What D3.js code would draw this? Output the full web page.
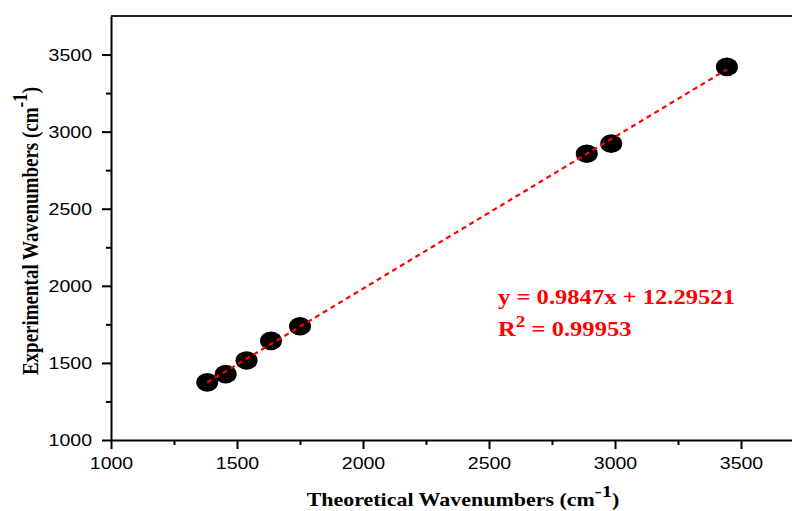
<!DOCTYPE html>
<html>
<head>
<meta charset="utf-8">
<script src="https://cdn.jsdelivr.net/npm/d3@7"></script>
<style>
  body { margin: 0; background: #fff; }
  svg { display: block; }
  .tick text { font-family: "Liberation Sans", Arial, sans-serif; font-size: 16px; fill: #000; }
  .axis-title { font-family: "Liberation Serif", "Times New Roman", serif; font-weight: bold; }
  .eq { font-family: "Liberation Serif", "Times New Roman", serif; font-weight: bold; font-size: 20.5px; fill: #ff0000; }
</style>
</head>
<body>
<svg id="chart" width="792" height="511"></svg>
<script>
// theoretical vs experimental wavenumbers (cm-1)
const theoretical = [1382, 1455, 1538, 1635, 1750, 2888, 2985, 3444];
const experimental = [1374, 1427, 1516, 1643, 1738, 2857, 2922, 3420];
const xTicks = [1000, 1500, 2000, 2500, 3000, 3500];
const yTicks = [1000, 1500, 2000, 2500, 3000, 3500];
const slope = 0.9847, intercept = 12.29521;

const svg = d3.select("#chart");
const margin = {left: 111, top: 16, right: -12, bottom: 71};
const W = 792 - margin.left - margin.right;
const H = 511 - margin.top - margin.bottom;
const stretch = 1.22; // the reference text is wider than it is tall

const x = d3.scaleLinear().domain([1000, 3750]).range([0, W]);
const y = d3.scaleLinear().domain([1000, 3750]).range([H, 0]);

const g = svg.append("g").attr("transform", "translate(" + margin.left + "," + margin.top + ")");

// minor ticks halfway between majors
let xMinor = d3.range(1250, 3750, 500);
let yMinor = d3.range(1250, 3750, 500);

g.append("g").attr("transform", "translate(0," + H + ")")
  .call(d3.axisBottom(x).tickValues(xMinor).tickSize(5).tickFormat(""))
  .call(a => a.select(".domain").remove())
  .selectAll("line").attr("stroke-width", 2);
g.append("g")
  .call(d3.axisLeft(y).tickValues(yMinor).tickSize(5).tickFormat(""))
  .call(a => a.select(".domain").remove())
  .selectAll("line").attr("stroke-width", 2);

let xAxis = g.append("g").attr("transform", "translate(0," + H + ")")
  .call(d3.axisBottom(x).tickValues(xTicks).tickSize(9).tickSizeOuter(0).tickFormat(d3.format("d")));
let yAxis = g.append("g")
  .call(d3.axisLeft(y).tickValues(yTicks).tickSize(9).tickSizeOuter(0).tickFormat(d3.format("d")));
xAxis.selectAll("line, path").attr("stroke-width", 2);
yAxis.selectAll("line, path").attr("stroke-width", 2);
xAxis.selectAll(".tick text").attr("y", 0).attr("dy", 0)
  .attr("transform", "translate(0,29) scale(" + stretch + ",1)");
yAxis.selectAll(".tick text").attr("x", 0).attr("dy", "0.36em")
  .attr("transform", "translate(-19,0) scale(" + stretch + ",1)");

// top border
g.append("line").attr("x1", 0).attr("x2", W).attr("y1", 0).attr("y2", 0)
  .attr("stroke", "#222").attr("stroke-width", 2);

// markers
g.selectAll("ellipse").data(theoretical).enter().append("ellipse")
  .attr("cx", d => x(d))
  .attr("cy", (d, i) => y(experimental[i]))
  .attr("rx", 11).attr("ry", 9.3)
  .attr("fill", "#000");

// linear fit line
const x0 = d3.min(theoretical), x1 = d3.max(theoretical);
g.append("line")
  .attr("x1", x(x0)).attr("y1", y(slope * x0 + intercept))
  .attr("x2", x(x1)).attr("y2", y(slope * x1 + intercept))
  .attr("stroke", "#ff0000").attr("stroke-width", 2.2)
  .attr("stroke-dasharray", "5,4");

// equation
let eq = svg.append("g").attr("transform", "translate(498,0) scale(1.2,1)");
eq.append("text").attr("class", "eq").attr("x", 0).attr("y", 304)
  .text("y = 0.9847x + 12.29521");
let r2 = eq.append("text").attr("class", "eq").attr("x", 0).attr("y", 336);
r2.append("tspan").text("R");
r2.append("tspan").attr("dy", -9).attr("font-size", 16).text("2");
r2.append("tspan").attr("dy", 9).text(" = 0.99953");

// axis titles
let xt = svg.append("text").attr("class", "axis-title").attr("font-size", 18)
  .attr("transform", "translate(463,506) scale(" + stretch + ",1)").attr("text-anchor", "middle");
xt.append("tspan").text("Theoretical Wavenumbers (cm");
xt.append("tspan").attr("dy", -9).attr("font-size", 17).text("-1");
xt.append("tspan").attr("dy", 9).text(")");

let yt = svg.append("text").attr("class", "axis-title").attr("font-size", 19)
  .attr("transform", "translate(38,231) scale(" + stretch + ",1) rotate(-90)").attr("text-anchor", "middle");
yt.append("tspan").text("Experimental Wavenumbers (cm");
yt.append("tspan").attr("dy", -9).attr("font-size", 17).text("-1");
yt.append("tspan").attr("dy", 9).text(")");
</script>
</body>
</html>
